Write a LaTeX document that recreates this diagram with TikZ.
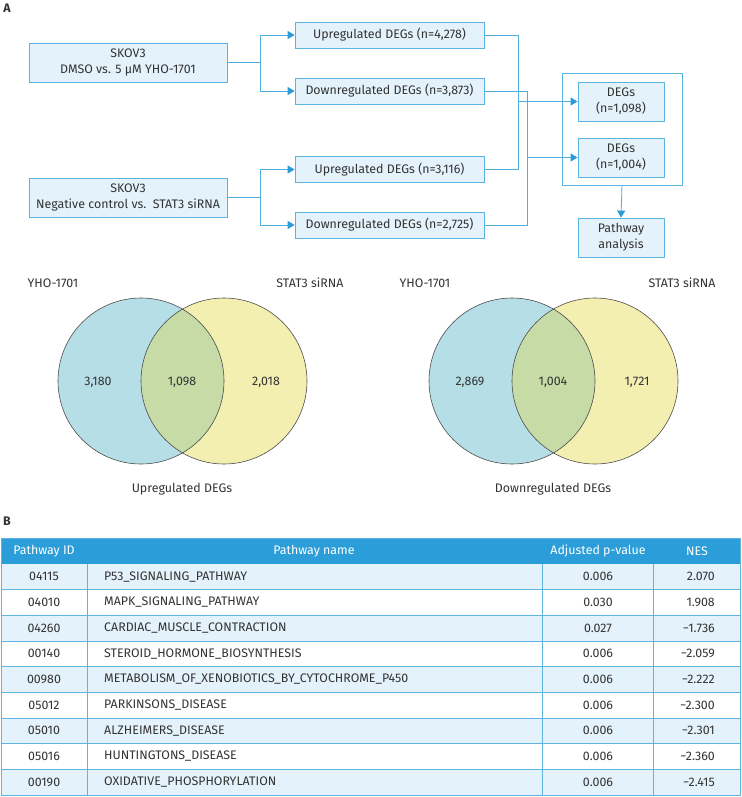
\documentclass[tikz,border=0pt]{standalone}
\usepackage{fontspec}
\setmainfont{Fira Sans}
\usetikzlibrary{arrows.meta,positioning}
\definecolor{boxfill}{HTML}{E3F2FB}
\definecolor{boxline}{HTML}{5AB4DF}
\definecolor{conn}{HTML}{4FAFDC}
\definecolor{tip}{HTML}{2B9AD6}
\definecolor{vblue}{HTML}{B6DEE6}
\definecolor{vyellow}{HTML}{F3EFB0}
\definecolor{vgreen}{HTML}{C6DBA6}
\definecolor{hdr}{HTML}{2B9DD9}
\definecolor{rowb}{HTML}{E4F3FB}
\definecolor{grid}{HTML}{5FB3DF}
\definecolor{txt}{HTML}{333333}
\begin{document}
\begin{tikzpicture}[x=1pt,y=-1pt,
  font=\fontsize{12.4}{16}\selectfont, text=txt,
  flowbox/.style={draw=boxline, fill=boxfill, line width=0.8pt, inner sep=0pt, align=center},
  wide/.style={flowbox, minimum width=198, minimum height=39},
  degbox/.style={flowbox, minimum width=189, minimum height=26},
  smallbox/.style={flowbox, minimum width=86, minimum height=39},
  link/.style={draw=conn, line width=0.8pt},
  arr/.style={link, -{Triangle[length=7,width=8,fill=tip,color=tip]}},
  vcirc/.style={draw=black!70, line width=0.6pt},
  cell/.style={inner sep=0pt, anchor=center},
  hcell/.style={inner sep=0pt, anchor=center, text=white},
]
\useasboundingbox (0,0) rectangle (741,797);

% labels
\node[font=\fontsize{12.4}{15}\selectfont\bfseries] (labA) at (7,8) {A};
\node[font=\fontsize{12.4}{15}\selectfont\bfseries] (labB) at (7,521) {B};

% flowchart
\node[wide] (b1) at (128,62.5) {SKOV3\\DMSO vs. 5 μM YHO-1701};
\node[wide] (b2) at (128,197.5) {SKOV3\\Negative control vs.\ \ STAT3 siRNA};
\node[degbox] (u1) at (389.5,35) {Upregulated DEGs (n=4,278)};
\node[degbox] (d1) at (389.5,91) {Downregulated DEGs (n=3,873)};
\node[degbox] (u2) at (389.5,169.5) {Upregulated DEGs (n=3,116)};
\node[degbox] (d2) at (389.5,225) {Downregulated DEGs (n=2,725)};
\node[draw=boxline, line width=0.8pt, minimum width=120, minimum height=112, inner sep=0pt] (outer) at (622,129) {};
\node[smallbox] (g1) at (621,101.5) {DEGs\\(n=1,098)};
\node[smallbox] (g2) at (621,157.5) {DEGs\\(n=1,004)};
\node[smallbox] (pa) at (621,237.5) {Pathway\\analysis};

\coordinate (j1) at (260,62.5);
\coordinate (j2) at (260,197.5);
\draw[link] (b1.east) -- (j1);
\draw[arr] (j1) |- (u1.west);
\draw[arr] (j1) |- (d1.west);
\draw[link] (b2.east) -- (j2);
\draw[arr] (j2) |- (u2.west);
\draw[arr] (j2) |- (d2.west);

\coordinate (c1t) at (518,35);
\coordinate (c1b) at (518,169.5);
\coordinate (c1m) at (518,101.5);
\coordinate (c2t) at (527,91);
\coordinate (c2b) at (527,225);
\coordinate (c2m) at (527,157.5);
\draw[link] (u1.east) -- (c1t) -- (c1b) -- (u2.east);
\draw[link] (d1.east) -- (c2t) -- (c2b) -- (d2.east);
\draw[arr] (c1m) -- (g1.west);
\draw[arr] (c2m) -- (g2.west);
\draw[arr] (outer.south) -- (pa.north);

% Venn diagrams
\foreach \cx/\nm in {141/L, 512/R}{
  \fill[vyellow] (\cx+83,381) circle (83);
  \fill[vblue] (\cx,381) circle (83);
  \begin{scope}
    \clip (\cx,381) circle (83);
    \fill[vgreen] (\cx+83,381) circle (83);
  \end{scope}
  \draw[vcirc] (\cx,381) circle (83);
  \draw[vcirc] (\cx+83,381) circle (83);
}
\node (vl1) at (53,283) {YHO-1701};
\node (vl2) at (310,283) {STAT3 siRNA};
\node (vl3) at (98,382) {3,180};
\node (vl4) at (182,382) {1,098};
\node (vl5) at (266,382) {2,018};
\node (vl6) at (182,489) {Upregulated DEGs};
\node (vr1) at (425,283) {YHO-1701};
\node (vr2) at (682,283) {STAT3 siRNA};
\node (vr3) at (470,382) {2,869};
\node (vr4) at (553,382) {1,004};
\node (vr5) at (637,382) {1,721};
\node (vr6) at (553,489) {Downregulated DEGs};

% table
\fill[hdr] (1,538) rectangle (740,564);
\foreach \i in {0,2,4,6,8}{
  \fill[rowb] (1,564+25.67*\i) rectangle (740,564+25.67*\i+25.67);
}
\foreach \i in {1,...,8}{
  \draw[grid, line width=0.6pt] (1,564+25.67*\i) -- (740,564+25.67*\i);
}
\draw[grid, line width=0.7pt] (1,538) rectangle (740,795);
\foreach \x in {87,542,653}{
  \draw[grid, line width=0.7pt] (\x,564) -- (\x,795);
}
\node[hcell] (h1) at (44,551) {Pathway ID};
\node[hcell] (h2) at (314,551) {Pathway name};
\node[hcell] (h3) at (598,551) {Adjusted p-value};
\node[hcell] (h4) at (697,551) {NES};

\foreach \id/\name/\p/\nes [count=\k from 0] in {
  04115/P53\_SIGNALING\_PATHWAY/0.006/2.070,
  04010/MAPK\_SIGNALING\_PATHWAY/0.030/1.908,
  04260/CARDIAC\_MUSCLE\_CONTRACTION/0.027/−1.736,
  00140/STEROID\_HORMONE\_BIOSYNTHESIS/0.006/−2.059,
  00980/METABOLISM\_OF\_XENOBIOTICS\_BY\_CYTOCHROME\_P450/0.006/−2.222,
  05012/PARKINSONS\_DISEASE/0.006/−2.300,
  05010/ALZHEIMERS\_DISEASE/0.006/−2.301,
  05016/HUNTINGTONS\_DISEASE/0.006/−2.360,
  00190/OXIDATIVE\_PHOSPHORYLATION/0.006/−2.415}{
  \node[cell] (id\k) at (44,576.8+25.67*\k) {\id};
  \node[cell, anchor=west] (nm\k) at (104,576.8+25.67*\k) {\name};
  \node[cell] (pv\k) at (598,576.8+25.67*\k) {\p};
  \node[cell, anchor=east] (ne\k) at (715,576.8+25.67*\k) {\nes};
}
\end{tikzpicture}
\end{document}
